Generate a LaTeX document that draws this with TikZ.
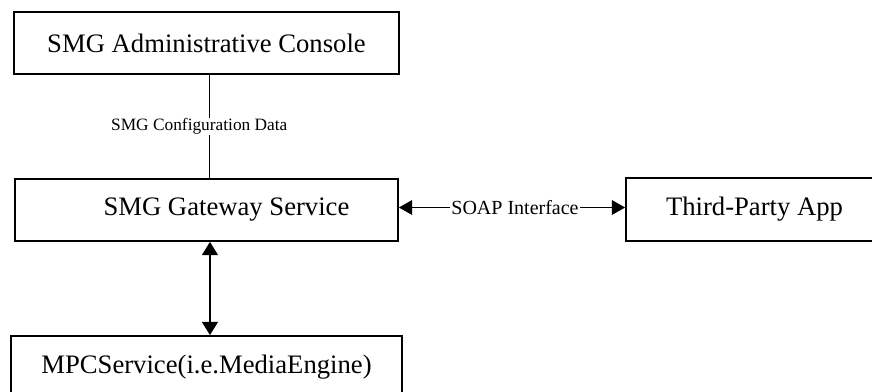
\documentclass[tikz,border=0pt]{standalone}
\usepackage{fontspec}
\setmainfont{Liberation Serif}
\usetikzlibrary{arrows.meta}

\begin{document}
\begin{tikzpicture}[x=0.75pt,y=0.75pt,yscale=-1,xscale=1,
    box/.style={draw,line width=1.3pt,inner sep=0pt,font=\fontsize{20}{24}\selectfont},
    tip/.style={-{Triangle[length=10pt,width=11pt]}}]
        \useasboundingbox (0,0) rectangle (872,392);
        \clip (0,0) rectangle (872,392);

        % boxes
        \node [box][minimum width=385*0.75pt,minimum height=62*0.75pt] (console) at (206.5,43) {SMG Administrative Console};
        \node [box][minimum width=383*0.75pt,minimum height=62*0.75pt] (gateway) at (206.5,210) {\hspace*{30pt}SMG Gateway Service};
        \node [box][minimum width=257*0.75pt,minimum height=63*0.75pt] (thirdparty) at (754.5,209.5) {Third-Party App};
        \node [box][minimum width=391*0.75pt,minimum height=62*0.75pt] (mpc) at (206.5,367) {MPCService(i.e.MediaEngine)};

        % config link
        \draw [line width=0.75pt] ([xshift=2.6pt]console.south) -- ([xshift=2.6pt]gateway.north)
            node [midway][xshift=-8pt][fill=white][inner sep=0.5pt][font=\fontsize{13}{15}\selectfont] (cfg) {SMG Configuration Data};

        % SOAP link
        \node [inner sep=1pt][font=\fontsize{15}{18}\selectfont] (soap) at (515,207.5) {SOAP Interface};
        \draw [tip][line width=1.2pt] (soap.west) -- (soap.west -| gateway.east);
        \draw [tip][line width=1.2pt] (soap.east) -- (soap.east -| thirdparty.west);

        % gateway <-> media engine
        \draw [{Triangle[length=10pt,width=12pt]}-{Triangle[length=10pt,width=12pt]}][line width=1.2pt] ([xshift=2.6pt]gateway.south) -- ([xshift=2.6pt]mpc.north);
\end{tikzpicture}
\end{document}
